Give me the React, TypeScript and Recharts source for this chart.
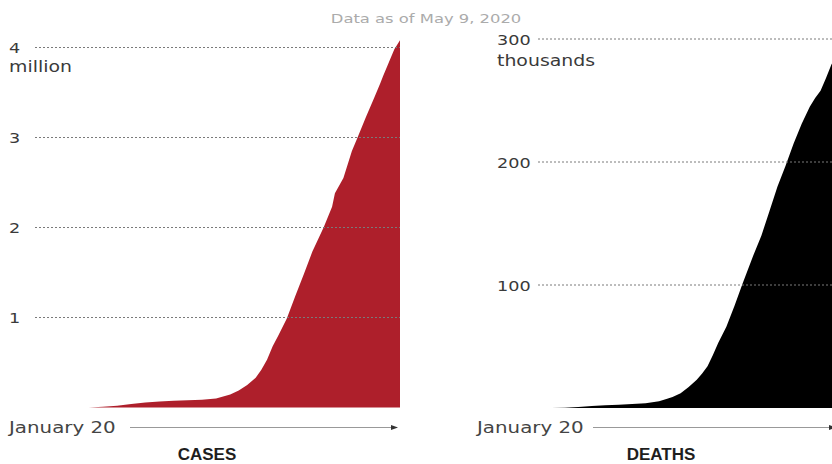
import React from 'react';
import { AreaChart, Area, XAxis, YAxis, ReferenceLine } from 'recharts';

// Days since January 20, 2020 (day 110 = May 9)
const caseDays = [0, 5, 10, 15, 20, 25, 30, 35, 40, 45, 50, 53, 56, 59, 61, 63, 65, 67, 70, 73, 76, 79, 83, 86, 87, 90, 93, 95, 98, 101, 103, 104, 106, 108, 110];
// Cumulative cases, millions
const caseMillions = [0, 0.008, 0.02, 0.04, 0.055, 0.068, 0.074, 0.08, 0.086, 0.1, 0.145, 0.19, 0.25, 0.33, 0.42, 0.53, 0.68, 0.8, 0.99, 1.24, 1.48, 1.73, 2.0, 2.23, 2.38, 2.55, 2.85, 3.0, 3.23, 3.45, 3.6, 3.68, 3.83, 3.98, 4.08];

const deathDays = [0, 5, 10, 15, 20, 25, 30, 35, 40, 45, 48, 50, 53, 56, 59, 61, 63, 65, 67, 70, 73, 76, 80, 83, 86, 89, 92, 95, 98, 101, 103, 105, 107, 109, 110];
// Cumulative deaths, thousands
const deathThousands = [0, 0.1, 0.3, 0.8, 1.6, 2.2, 2.7, 3.2, 3.9, 5.5, 7.5, 9, 12, 17, 23, 28, 34, 43, 53, 66, 83, 101, 124, 140, 160, 180, 197, 215, 231, 245, 252, 258, 268, 279, 283];

const caseTicks = [1, 2, 3, 4];
const deathTicks = [100, 200, 300];

const titleText = 'Data as of May 9, 2020';
const startLabel = 'January 20';
const casesTitle = 'CASES';
const deathsTitle = 'DEATHS';
const casesUnit = 'million';
const deathsUnit = 'thousands';

const caseData = caseDays.map((d, i) => ({ day: d, value: caseMillions[i] }));
const deathData = deathDays.map((d, i) => ({ day: d, value: deathThousands[i] }));

const FONT = '"DejaVu Sans", sans-serif';
const SX = 1.26;
const GRID = '#7a7a7a';

function makeTick(labelX: number, topValue: number, unit: string, unitGap: number) {
  return (props: any) => {
    const { y, payload } = props;
    return (
      <g>
        <text
          transform={`translate(${labelX},${y + 5.5}) scale(${SX},1)`}
          fontFamily={FONT}
          fontSize={14}
          fill="#3a3a3a"
        >
          {payload.value}
        </text>
        {payload.value === topValue && (
          <text
            transform={`translate(${labelX},${y + 5.5 + unitGap}) scale(${SX},1)`}
            fontFamily={FONT}
            fontSize={15}
            fill="#3a3a3a"
          >
            {unit}
          </text>
        )}
      </g>
    );
  };
}

export default function App() {
  return (
    <div
      style={{
        position: 'absolute',
        left: 0,
        top: 0,
        width: 832,
        height: 464,
        overflow: 'hidden',
        background: '#fff',
      }}
    >
      <div style={{ position: 'absolute', left: 0, top: 0 }}>
        <AreaChart
          width={410}
          height={430}
          data={caseData}
          margin={{ top: 29.5, right: 10, bottom: 22.5, left: 0 }}
        >
          <XAxis type="number" dataKey="day" domain={[-19, 110]} hide />
          <YAxis
            type="number"
            domain={[0, 4.2]}
            ticks={caseTicks}
            interval={0}
            width={35}
            axisLine={false}
            tickLine={false}
            tick={makeTick(9, 4, casesUnit, 18.5)}
          />
          {caseTicks.map((t) => (
            <ReferenceLine key={t} y={t} stroke={GRID} strokeDasharray="2 2" />
          ))}
          <Area
            type="linear"
            dataKey="value"
            stroke="none"
            fill="#AE1F2B"
            fillOpacity={1}
            isAnimationActive={false}
          />
        </AreaChart>
      </div>
      <div style={{ position: 'absolute', left: 420, top: 0 }}>
        <AreaChart
          width={420}
          height={430}
          data={deathData}
          margin={{ top: 26.7, right: 6, bottom: 22, left: 0 }}
        >
          <XAxis type="number" dataKey="day" domain={[0, 110]} hide />
          <YAxis
            type="number"
            domain={[0, 310]}
            ticks={deathTicks}
            interval={0}
            width={118}
            axisLine={false}
            tickLine={false}
            tick={makeTick(77, 300, deathsUnit, 21.5)}
          />
          {deathTicks.map((t) => (
            <ReferenceLine key={t} y={t} stroke={GRID} strokeDasharray="2 2" />
          ))}
          <Area
            type="linear"
            dataKey="value"
            stroke="none"
            fill="#000000"
            fillOpacity={1}
            isAnimationActive={false}
          />
        </AreaChart>
      </div>
      <svg
        width={832}
        height={464}
        style={{ position: 'absolute', left: 0, top: 0, pointerEvents: 'none' }}
      >
        <text
          transform={`translate(426,22.5) scale(${SX},1)`}
          textAnchor="middle"
          fontFamily={FONT}
          fontSize={13}
          fill="#ababab"
        >
          {titleText}
        </text>
        <text transform={`translate(9,433) scale(1.24,1)`} fontFamily={FONT} fontSize={16} fill="#444">
          {startLabel}
        </text>
        <text transform={`translate(477,433) scale(1.24,1)`} fontFamily={FONT} fontSize={16} fill="#444">
          {startLabel}
        </text>
        <line x1={130} x2={392} y1={427.5} y2={427.5} stroke="#999" strokeWidth={1} />
        <polygon points="391,425 398,427.5 391,430" fill="#333" />
        <line x1={593} x2={830} y1={427.5} y2={427.5} stroke="#999" strokeWidth={1} />
        <polygon points="829,425 836,427.5 829,430" fill="#333" />
        <text
          x={207}
          y={460}
          textAnchor="middle"
          fontFamily='"Liberation Sans", Arial, sans-serif'
          fontWeight={700}
          fontSize={17}
          fill="#1e1e1e"
        >
          {casesTitle}
        </text>
        <text
          x={661}
          y={460}
          textAnchor="middle"
          fontFamily='"Liberation Sans", Arial, sans-serif'
          fontWeight={700}
          fontSize={17}
          fill="#1e1e1e"
        >
          {deathsTitle}
        </text>
      </svg>
    </div>
  );
}
